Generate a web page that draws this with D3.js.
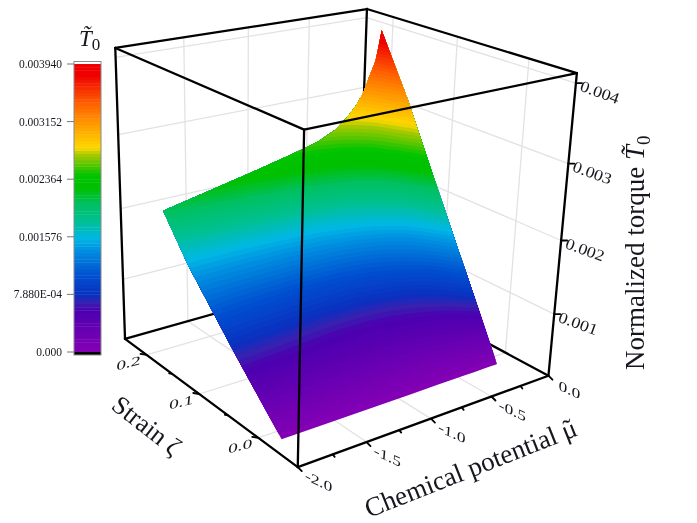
<!DOCTYPE html>
<html>
<head>
<meta charset="utf-8">
<script src="https://cdn.jsdelivr.net/npm/d3@7"></script>
<style>
  html, body { margin: 0; padding: 0; background: #fff; }
  svg { filter: blur(0.35px); }
  text { font-family: "Liberation Serif", "Times New Roman", serif; fill: #16161e; }
</style>
</head>
<body>
<svg id="chart" width="697" height="523"></svg>
<script>
// --- data ---
const muValues = [-1.83, -1.5, -1.1, -0.8, -0.6, -0.45, -0.35, -0.27, -0.21, -0.16, -0.115, -0.09, -0.07];
const zetaValues = [0, 0.04, 0.08, 0.12, 0.16, 0.205];
// torque in units of 1e-3, one row per zeta, one column per mu
const torqueRow0 = [0, 0, 0, 0, 0, 0, 0, 0, 0, 0, 0, 0, 0];
const torqueRow1 = [0.37, 0.36, 0.34, 0.33, 0.35, 0.38, 0.42, 0.47, 0.53, 0.60, 0.69, 0.75, 0.79];
const torqueRow2 = [0.74, 0.70, 0.64, 0.64, 0.68, 0.75, 0.83, 0.93, 1.05, 1.20, 1.38, 1.48, 1.57];
const torqueRow3 = [1.13, 1.08, 1.04, 1.07, 1.14, 1.25, 1.37, 1.51, 1.68, 1.88, 2.10, 2.22, 2.36];
const torqueRow4 = [1.52, 1.52, 1.55, 1.62, 1.74, 1.90, 2.05, 2.22, 2.42, 2.63, 2.88, 2.98, 3.15];
const torqueRow5 = [2.06, 2.18, 2.33, 2.45, 2.54, 2.66, 2.80, 2.95, 3.12, 3.34, 3.52, 3.74, 3.94];
const torqueRows = [torqueRow0, torqueRow1, torqueRow2, torqueRow3, torqueRow4, torqueRow5];

const muTicks = [-2, -1.5, -1, -0.5, 0];
const muMinor = [-1.75, -1.25, -0.75, -0.25];
const zetaTicks = [0, 0.1, 0.2];
const zetaMinor = [0.05, 0.15];
const torqueTicks = [1, 2, 3, 4];
const barTicks = [0, 0.788, 1.576, 2.364, 3.152, 3.94];
const barLabels = ["0.000", "7.880E-04", "0.001576", "0.002364", "0.003152", "0.003940"];

const colorStops = [0, 0.575, 0.67, 0.78, 1.05, 1.40, 1.56, 1.80, 2.04, 2.24, 2.42, 2.70, 2.80, 3.17, 3.40, 3.79, 3.94];
const colorValues = ["#8500b5", "#4b00b0", "#3a20b0", "#0a30c0", "#0050d0", "#0090e0", "#00b8e4", "#00c090",
  "#00c060", "#00c000", "#00c400", "#a8c800", "#ffd800", "#ff9000", "#ff6000", "#f00000", "#f00000"];

// --- scales ---
const muScale = d3.scaleLinear().domain([-2, 0]).range([0, 1]);
const zetaScale = d3.scaleLinear().domain([-0.061, 0.244]).range([0, 1]);
const torqueScale = d3.scaleLinear().domain([0.13, 4.12]).range([0, 1]);
const color = d3.scaleLinear().domain(colorStops).range(colorValues).interpolate(d3.interpolateRgb);
const nLevels = 90;
const step = 3.94 / nLevels;
const levels = d3.range(0, nLevels).map(i => i * step);

// --- camera: projective matrix fitted on the 8 corners of the box ---
const corners = [
  [0, 0, 0, 298, 468], [1, 0, 0, 549, 374], [0, 1, 0, 125, 338], [1, 1, 0, 357, 275],
  [0, 0, 1, 303, 131], [1, 0, 1, 577, 73], [0, 1, 1, 116, 47], [1, 1, 1, 367, 9]
];

function solve(A, b) {
  const n = b.length;
  const M = A.map((r, i) => [...r, b[i]]);
  for (let c = 0; c < n; c++) {
    let p = c;
    for (let r = c + 1; r < n; r++) if (Math.abs(M[r][c]) > Math.abs(M[p][c])) p = r;
    [M[c], M[p]] = [M[p], M[c]];
    for (let r = 0; r < n; r++) {
      if (r === c) continue;
      const f = M[r][c] / M[c][c];
      for (let k = c; k <= n; k++) M[r][k] -= f * M[c][k];
    }
  }
  return M.map((r, i) => r[n] / r[i]);
}

function fitCamera() {
  const rows = [], rhs = [];
  corners.forEach(([X, Y, Z, x, y]) => {
    rows.push([X, Y, Z, 1, 0, 0, 0, 0, -x * X, -x * Y, -x * Z]); rhs.push(x);
    rows.push([0, 0, 0, 0, X, Y, Z, 1, -y * X, -y * Y, -y * Z]); rhs.push(y);
  });
  const AtA = d3.range(11).map(i => d3.range(11).map(j => d3.sum(rows, r => r[i] * r[j])));
  const Atb = d3.range(11).map(i => d3.sum(rows, (r, k) => r[i] * rhs[k]));
  return solve(AtA, Atb);
}
const cam = fitCamera();

function project(mu, zeta, torque) {
  const X = muScale(mu), Y = zetaScale(zeta), Z = torqueScale(torque);
  const w = cam[8] * X + cam[9] * Y + cam[10] * Z + 1;
  return [(cam[0] * X + cam[1] * Y + cam[2] * Z + cam[3]) / w,
          (cam[4] * X + cam[5] * Y + cam[6] * Z + cam[7]) / w];
}

const svg = d3.select("#chart");
const line = d3.line();
const MU0 = -2, MU1 = 0, Z0 = zetaScale.domain()[0], Z1 = zetaScale.domain()[1];
const T0 = torqueScale.domain()[0], T1 = torqueScale.domain()[1];

function seg(g, a, b) {
  g.append("path").attr("d", line([a, b])).attr("fill", "none");
}
function styleLines(g, col, w) {
  g.selectAll("path").attr("stroke", col).attr("stroke-width", w).attr("stroke-linecap", "round");
}

// --- 1. grid on the back walls and the floor ---
const grid = svg.append("g");
muTicks.slice(1, 4).forEach(m => {
  seg(grid, project(m, Z0, T0), project(m, Z1, T0));
  seg(grid, project(m, Z1, T0), project(m, Z1, T1));
});
zetaTicks.forEach(z => {
  seg(grid, project(MU0, z, T0), project(MU1, z, T0));
  seg(grid, project(MU1, z, T0), project(MU1, z, T1));
});
torqueTicks.forEach(t => {
  seg(grid, project(MU0, Z1, t), project(MU1, Z1, t));
  seg(grid, project(MU1, Z1, t), project(MU1, Z0, t));
});
styleLines(grid, "#e2e2e2", 1.3);

// --- 2. back edges of the box ---
const back = svg.append("g");
seg(back, project(MU0, Z1, T0), project(MU1, Z1, T0));
seg(back, project(MU1, Z1, T0), project(MU1, Z0, T0));
seg(back, project(MU1, Z1, T0), project(MU1, Z1, T1));
seg(back, project(MU0, Z1, T1), project(MU1, Z1, T1));
seg(back, project(MU1, Z1, T1), project(MU1, Z0, T1));
styleLines(back, "#000", 2.3);

// --- 3. surface as filled contour bands ---
const nx = muValues.length, ny = zetaValues.length;
const flat = torqueRows.flat();
const muOfIndex = d3.scaleLinear().domain(d3.range(nx)).range(muValues);
const zetaOfIndex = d3.scaleLinear().domain(d3.range(ny)).range(zetaValues);

function torqueAt(ix, iy) {
  const i = Math.min(Math.floor(ix), nx - 2), j = Math.min(Math.floor(iy), ny - 2);
  const a = ix - i, b = iy - j;
  const r0 = d3.interpolateNumber(torqueRows[j][i], torqueRows[j][i + 1])(a);
  const r1 = d3.interpolateNumber(torqueRows[j + 1][i], torqueRows[j + 1][i + 1])(a);
  return d3.interpolateNumber(r0, r1)(b);
}
function gridToScreen([gx, gy]) {
  const ix = Math.max(0, Math.min(nx - 1, gx - 0.5));
  const iy = Math.max(0, Math.min(ny - 1, gy - 0.5));
  return project(muOfIndex(ix), zetaOfIndex(iy), torqueAt(ix, iy));
}

const bands = d3.contours().size([nx, ny]).thresholds(levels)(flat);
svg.append("g").selectAll("path")
  .data(bands)
  .join("path")
  .attr("fill", d => color(d.value + step / 2))
  .attr("d", d => d.coordinates.map(poly => poly.map(ring =>
    "M" + ring.map(gridToScreen).map(p => p[0].toFixed(2) + "," + p[1].toFixed(2)).join("L") + "Z").join("")).join(""));

// --- 4. front edges and axes ---
const front = svg.append("g");
seg(front, project(MU0, Z0, T0), project(MU1, Z0, T0));
seg(front, project(MU0, Z0, T0), project(MU0, Z1, T0));
seg(front, project(MU0, Z0, T0), project(MU0, Z0, T1));
seg(front, project(MU0, Z1, T0), project(MU0, Z1, T1));
seg(front, project(MU1, Z0, T0), project(MU1, Z0, T1));
seg(front, project(MU0, Z1, T1), project(MU0, Z0, T1));
seg(front, project(MU0, Z0, T1), project(MU1, Z0, T1));
styleLines(front, "#000", 2.3);

// ticks
const ticks = svg.append("g");
function tickLine(p, dx, dy) { seg(ticks, p, [p[0] + dx, p[1] + dy]); }
zetaTicks.forEach(z => tickLine(project(MU0, z, T0), -6, -1));
zetaMinor.forEach(z => tickLine(project(MU0, z, T0), -3, -0.5));
muTicks.forEach(m => tickLine(project(m, Z0, T0), 4, 4));
muMinor.forEach(m => tickLine(project(m, Z0, T0), 2, 2.5));
torqueTicks.forEach(t => tickLine(project(MU1, Z0, t), 6, 0));
styleLines(ticks, "#000", 1.8);

// tick labels, tilted to follow the perspective
const labels = svg.append("g");
function tiltedLabel(p, dx, dy, txt, tf, size) {
  labels.append("text")
    .attr("transform", `translate(${p[0] + dx},${p[1] + dy}) ${tf}`)
    .attr("text-anchor", "middle").attr("dy", "0.35em")
    .attr("font-size", size).text(txt);
}
zetaTicks.forEach(z => tiltedLabel(project(MU0, z, T0), -18, 8, z.toFixed(1), "rotate(-14) skewX(-20) scale(1,0.62)", 20));
muTicks.forEach(m => tiltedLabel(project(m, Z0, T0), 21, 14, m === 0 ? "0.0" : m.toFixed(1), "rotate(25) skewX(20) scale(1,0.68)", 19));
torqueTicks.forEach(t => tiltedLabel(project(MU1, Z0, t), 24, 9, (t / 1000).toFixed(3), "rotate(20) scale(1,0.88)", 18));

// axis titles
function title(x, y, rot, size) {
  return svg.append("text").attr("transform", `translate(${x},${y}) rotate(${rot})`).attr("font-size", size);
}
title(110, 408, 38, 26).text("Strain \u03B6");
const muTitle = title(369, 518, -21.6, 27);
muTitle.append("tspan").text("Chemical potential \u03BC");
muTitle.append("tspan").attr("dx", "-0.42em").attr("dy", "-0.02em").text("\u02DC");
const zTitle = title(644, 370, -90, 27);
zTitle.append("tspan").text("Normalized torque  ");
zTitle.append("tspan").attr("font-style", "italic").text("T\u0303");
zTitle.append("tspan").attr("dy", 6).attr("font-size", 19).text("0");

// --- 5. colour bar ---
const barY = d3.scaleLinear().domain([0, 3.94]).range([352, 64]);
const bar = svg.append("g");
bar.selectAll("rect.cell")
  .data(levels)
  .join("rect")
  .attr("class", "cell")
  .attr("x", 74).attr("width", 27)
  .attr("y", d => barY(d + step))
  .attr("height", barY(0) - barY(step) + 0.4)
  .attr("fill", d => color(d + step / 2));
bar.append("rect").attr("x", 74).attr("y", 352).attr("width", 27).attr("height", 3).attr("fill", "#000");
bar.append("rect").attr("x", 74).attr("y", 61.5).attr("width", 27).attr("height", 293.5)
  .attr("fill", "none").attr("stroke", "#8a8a8a").attr("stroke-width", 1);
barTicks.forEach((v, i) => {
  bar.append("line").attr("x1", 67).attr("x2", 74).attr("y1", barY(v)).attr("y2", barY(v))
    .attr("stroke", "#777").attr("stroke-width", 1);
  bar.append("text").attr("x", 62).attr("y", barY(v)).attr("dy", "0.35em")
    .attr("text-anchor", "end").attr("font-size", 11.5).text(barLabels[i]);
});
const barTitle = svg.append("text").attr("x", 79).attr("y", 46).attr("font-size", 23);
barTitle.append("tspan").attr("font-style", "italic").text("T\u0303");
barTitle.append("tspan").attr("dy", 4).attr("font-size", 17).text("0");
</script>
</body>
</html>
